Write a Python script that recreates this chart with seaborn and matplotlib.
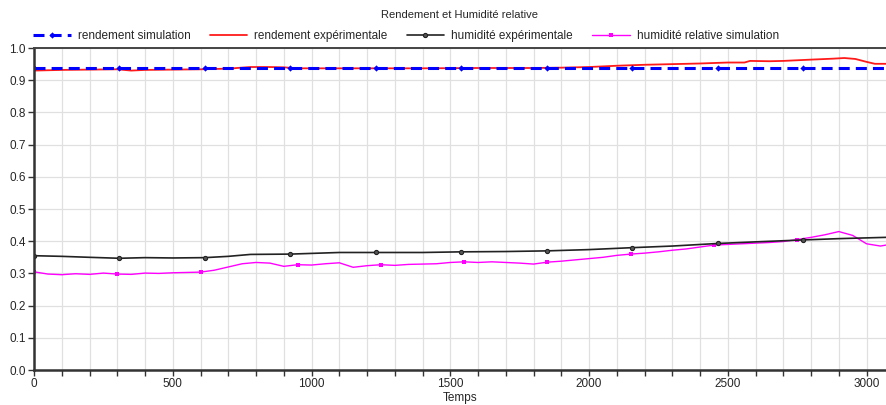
import numpy as np
import pandas as pd
import matplotlib
matplotlib.use("Agg")
import matplotlib.pyplot as plt
from matplotlib.lines import Line2D
from matplotlib.ticker import MultipleLocator
import seaborn as sns

sns.set_style("white")
plt.rcParams['font.family'] = ['Liberation Sans', 'DejaVu Sans']

# rendement simulation (constant)
t_sim = [0, 308, 616, 924, 1232, 1540, 1848, 2156, 2464, 2772, 3070]
rend_sim = [0.937, 0.937, 0.937, 0.937, 0.937, 0.937, 0.937, 0.937, 0.937, 0.937, 0.937]

# rendement experimentale
t_rend = [0, 100, 200, 300, 350, 400, 500, 600, 700, 780, 850, 900, 950, 1000, 1200,
          1400, 1600, 1800, 1900, 2000, 2100, 2200, 2300, 2400, 2500, 2560, 2580, 2650,
          2700, 2800, 2880, 2920, 2960, 3000, 3030, 3070]
rend_exp = [0.930, 0.932, 0.933, 0.934, 0.930, 0.932, 0.933, 0.934, 0.936, 0.941, 0.941,
            0.940, 0.937, 0.937, 0.937, 0.937, 0.938, 0.938, 0.939, 0.941, 0.945, 0.948,
            0.950, 0.952, 0.955, 0.955, 0.960, 0.959, 0.960, 0.964, 0.967, 0.969, 0.966,
            0.957, 0.951, 0.951]

# humidite experimentale
t_hum = [0, 100, 200, 308, 400, 500, 616, 700, 780, 924, 1100, 1232, 1400, 1540, 1700,
         1848, 2000, 2156, 2300, 2464, 2600, 2772, 2900, 3070]
hum_exp = [0.355, 0.353, 0.350, 0.347, 0.349, 0.348, 0.349, 0.353, 0.359, 0.360, 0.365,
           0.365, 0.365, 0.367, 0.368, 0.370, 0.374, 0.380, 0.385, 0.393, 0.398, 0.404,
           0.408, 0.412]
hum_marks = [0, 3, 6, 9, 11, 13, 15, 17, 19, 21]

# humidite relative simulation
t_rh = [0, 50, 100, 150, 200, 250, 300, 350, 400, 450, 500, 550, 600, 650, 700, 750,
        800, 850, 900, 950, 1000, 1050, 1100, 1150, 1200, 1250, 1300, 1350, 1400, 1450,
        1500, 1550, 1600, 1650, 1700, 1750, 1800, 1850, 1900, 1950, 2000, 2050, 2100,
        2150, 2200, 2250, 2300, 2350, 2400, 2450, 2500, 2550, 2600, 2650, 2700, 2750,
        2800, 2850, 2900, 2950, 3000, 3050, 3070]
rh_sim = [0.305, 0.298, 0.296, 0.299, 0.297, 0.301, 0.298, 0.297, 0.301, 0.300, 0.302,
          0.303, 0.304, 0.310, 0.320, 0.330, 0.334, 0.332, 0.322, 0.327, 0.326, 0.330,
          0.333, 0.319, 0.324, 0.327, 0.325, 0.328, 0.329, 0.330, 0.334, 0.336, 0.334,
          0.336, 0.334, 0.332, 0.329, 0.335, 0.338, 0.342, 0.346, 0.350, 0.356, 0.360,
          0.363, 0.367, 0.372, 0.376, 0.382, 0.388, 0.390, 0.392, 0.394, 0.396, 0.399,
          0.405, 0.412, 0.420, 0.430, 0.418, 0.392, 0.385, 0.388]
rh_marks = [0, 6, 12, 19, 25, 31, 37, 43, 49, 55]

labels = ["rendement simulation", "rendement expérimentale",
          "humidité expérimentale", "humidité relative simulation"]

fig = plt.figure(figsize=(8.86, 4.05), dpi=100)
ax = fig.add_axes([0.0384, 0.0864, 0.9616, 0.795])

ax.grid(True, which="both", color="#e0e0e0", linewidth=0.9)
ax.set_axisbelow(True)

sns.lineplot(x=t_rh, y=rh_sim, ax=ax, color="#ff00ff", linewidth=1.0,
             marker="s", markersize=2.5, markevery=rh_marks, markeredgewidth=0)
sns.lineplot(x=t_hum, y=hum_exp, ax=ax, color="#222222", linewidth=1.2,
             marker="o", markersize=3, markevery=hum_marks, markerfacecolor="#555555",
             markeredgecolor="#222222", markeredgewidth=0.8)
sns.lineplot(x=t_rend, y=rend_exp, ax=ax, color="#ff1a1a", linewidth=1.3)
sns.lineplot(x=t_sim, y=rend_sim, ax=ax, color="#0000ff", linewidth=2.2,
             linestyle=(0, (3.6, 2.0)), marker="D", markersize=3.2,
             markevery=list(range(10)), markeredgewidth=0)

ax.set_xlim(0, 3070)
ax.set_ylim(0, 1.0)
ax.xaxis.set_major_locator(MultipleLocator(500))
ax.xaxis.set_minor_locator(MultipleLocator(100))
ax.yaxis.set_major_locator(MultipleLocator(0.1))
ax.yaxis.set_major_formatter(matplotlib.ticker.FormatStrFormatter("%.1f"))
ax.tick_params(axis="both", which="both", direction="out", length=4, width=1,
               color="#333333", labelsize=8.5, pad=2, bottom=True, left=True)
for side in ["left", "bottom"]:
    ax.spines[side].set_color("#333333")
    ax.spines[side].set_linewidth(1.8)
ax.spines["top"].set_color("#444444")
ax.spines["top"].set_linewidth(1.4)
ax.spines["right"].set_visible(False)

ax.set_xlabel("Temps", fontsize=8.5, labelpad=1)
ax.set_ylabel("")

handles = [
    Line2D([], [], color="#0000ff", linewidth=2.2, linestyle=(0, (3.6, 2.0)),
           marker="D", markersize=3.2, markeredgewidth=0),
    Line2D([], [], color="#ff1a1a", linewidth=1.3),
    Line2D([], [], color="#222222", linewidth=1.2, marker="o", markersize=3,
           markerfacecolor="#555555", markeredgewidth=0.8),
    Line2D([], [], color="#ff00ff", linewidth=1.0, marker="s", markersize=2.5,
           markeredgewidth=0),
]
fig.legend(handles, labels, loc="center left", bbox_to_anchor=(0.032, 0.91),
           ncol=4, frameon=False, fontsize=8.5, handlelength=3.2,
           handletextpad=0.6, columnspacing=1.6, borderaxespad=0)
fig.text(0.519, 0.962, "Rendement et Humidité relative", ha="center", va="center",
         fontsize=8)

fig.savefig("out.png", dpi=100)
